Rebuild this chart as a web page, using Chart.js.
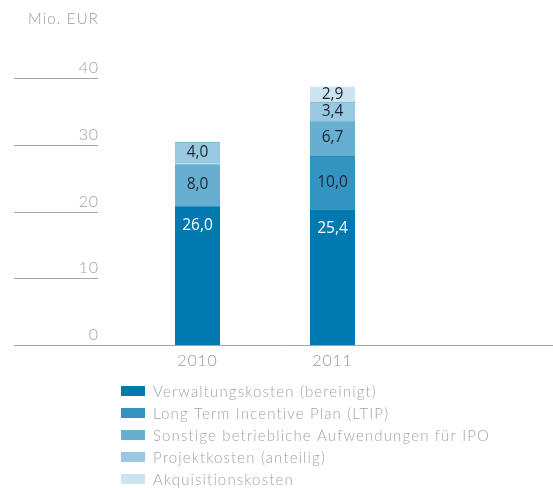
<!DOCTYPE html>
<html>
<head>
<meta charset="utf-8">
<script src="https://cdn.jsdelivr.net/npm/chart.js@4.4.1/dist/chart.umd.min.js"></script>
<style>
  html, body { margin: 0; padding: 0; background: #fff; }
  #wrap { width: 553px; height: 488px; position: relative; }
</style>
</head>
<body>
<div id="wrap"><canvas id="cost-chart"></canvas></div>
<script>
// Chart data
const years = ['2010', '2011'];
const verwaltung = [26.0, 25.4];
const ltip = [null, 10.0];
const sonstige = [8.0, 6.7];
const projekt = [4.0, 3.4];
const akquisition = [null, 2.9];
// tick labels as printed on the original axis (positions 0, 12.5, 25, 37.5, 50)
const tickLabels = ['0', '10', '20', '30', '40'];
const seriesNames = [
  'Verwaltungskosten (bereinigt)',
  'Long Term Incentive Plan (LTIP)',
  'Sonstige betriebliche Aufwendungen für IPO',
  'Projektkosten (anteilig)',
  'Akquisitionskosten'
];
const colors = ['#0079b1', '#3394c1', '#66afd1', '#99c9e1', '#cce4f0'];
const edgeColors = ['#0079b1', '#2a88b8', '#4ba0cb', '#7ebbda', '#b4d7e8'];
const labelColors = ['#ffffff', '#1c2630', '#1c2630', '#1c2630', '#1c2630'];

const LIGHT = 'Lato, "Open Sans", sans-serif';
const VALUE_FONT = '"Open Sans", sans-serif';

function fmt(v) {
  return v.toFixed(1).replace('.', ',');
}

// draws axis lines, tick labels, year labels, value labels and legend
const decorations = {
  id: 'decorations',
  afterDatasetsDraw(chart) {
    const ctx = chart.ctx;
    const y = chart.scales.y;
    const x = chart.scales.x;
    ctx.save();

    // axis unit
    ctx.fillStyle = '#999999';
    ctx.font = '300 15px ' + LIGHT;
    ctx.letterSpacing = '1.2px';
    ctx.textAlign = 'left';
    ctx.textBaseline = 'alphabetic';
    ctx.fillText('Mio. EUR', 28, 24);

    // short grid lines + tick labels
    ctx.strokeStyle = '#a5a5a5';
    ctx.lineWidth = 1;
    ctx.letterSpacing = '0.8px';
    tickLabels.forEach((lbl, i) => {
      const py = Math.round(y.getPixelForValue(i * 12.5)) + 0.5;
      ctx.beginPath();
      ctx.moveTo(14, py);
      ctx.lineTo(i === 0 ? 553 : 98, py);
      ctx.stroke();
      ctx.fillStyle = '#a3a3a3';
      ctx.font = '300 16px ' + LIGHT;
      ctx.textAlign = 'right';
      ctx.fillText(lbl, 98.8, py - 6);
    });

    // year labels
    ctx.fillStyle = '#999999';
    ctx.font = '300 16px ' + LIGHT;
    ctx.textAlign = 'center';
    years.forEach((yr, i) => {
      ctx.fillText(yr, x.getPixelForValue(i), 366);
    });

    // value labels
    ctx.letterSpacing = '0px';
    ctx.font = '15.5px ' + VALUE_FONT;
    ctx.textBaseline = 'middle';
    chart.data.datasets.forEach((ds, di) => {
      const meta = chart.getDatasetMeta(di);
      meta.data.forEach((bar, i) => {
        const v = ds.data[i];
        if (v === null || v === undefined) return;
        const top = bar.y;
        const bottom = bar.base;
        const ly = di === 0 ? top + 19 : (top + bottom) / 2;
        ctx.fillStyle = labelColors[di];
        ctx.fillText(fmt(v), bar.x, ly);
      });
    });

    // legend
    ctx.textAlign = 'left';
    ctx.font = '300 15px ' + LIGHT;
    ctx.letterSpacing = '1.15px';
    chart.data.datasets.forEach((ds, di) => {
      const ry = 391 + di * 22;
      ctx.fillStyle = colors[di];
      ctx.fillRect(121, ry - 5, 24, 10);
      ctx.fillStyle = '#a3a3a3';
      ctx.fillText(ds.label, 153, ry + 1);
    });

    ctx.restore();
  }
};

function buildChart() {
  const ctx = document.getElementById('cost-chart').getContext('2d');
  const seriesData = [verwaltung, ltip, sonstige, projekt, akquisition];

  new Chart(ctx, {
    type: 'bar',
    data: {
      labels: years,
      datasets: seriesData.map((d, i) => ({
        label: seriesNames[i],
        data: d,
        backgroundColor: colors[i],
        borderColor: edgeColors[i],
        borderWidth: { top: i === 0 ? 0 : 1, left: 0, right: 0, bottom: 0 },
        borderSkipped: false,
        barPercentage: 1,
        categoryPercentage: 1 / 3
      }))
    },
    options: {
      responsive: true,
      maintainAspectRatio: false,
      animation: false,
      layout: { padding: { left: 130, right: 153, top: 78, bottom: 143 } },
      plugins: { legend: { display: false }, tooltip: { enabled: false } },
      scales: {
        x: { stacked: true, display: false },
        y: { stacked: true, display: false, min: 0, max: 50 }
      }
    },
    plugins: [decorations]
  });
}

window.onload = buildChart;
</script>
</body>
</html>
